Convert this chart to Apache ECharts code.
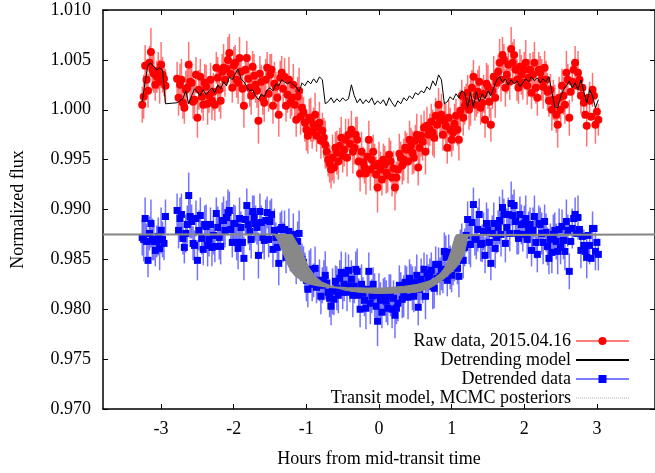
<!DOCTYPE html>
<html>
<head>
<meta charset="utf-8">
<script src="https://cdn.jsdelivr.net/npm/echarts@6/dist/echarts.min.js"></script>
<style>
  html, body { margin: 0; padding: 0; background: #fff; }
  #chart { width: 655px; height: 473px; }
</style>
</head>
<body>
<div id="chart"></div>
<script>
// hours from mid-transit (first block: even exposures, second block: odd exposures)
var hours = [
  -3.26, -3.22, -3.18, -3.14, -3.10, -3.06, -3.02, -2.98, -2.94,
  -2.78, -2.74, -2.70, -2.66, -2.62, -2.58, -2.54, -2.50, -2.46, -2.42,
  -2.38, -2.34, -2.30, -2.26, -2.22, -2.18, -2.14, -2.10, -2.06, -2.02,
  -1.98, -1.94, -1.90, -1.86, -1.82, -1.78, -1.74, -1.70, -1.66, -1.62,
  -1.58, -1.54, -1.50, -1.46, -1.42, -1.38, -1.34, -1.30, -1.26, -1.22,
  -1.18, -1.14, -1.10, -1.06, -1.02, -0.98, -0.94, -0.90, -0.86, -0.82,
  -0.78, -0.74, -0.70, -0.66, -0.62, -0.58, -0.54, -0.50, -0.46, -0.42,
  -0.38, -0.34, -0.30, -0.26, -0.22, -0.18, -0.14, -0.10, -0.06, -0.02,
  0.02, 0.06, 0.10, 0.14, 0.18, 0.22, 0.26, 0.30, 0.34, 0.38,
  0.42, 0.46, 0.50, 0.54, 0.58, 0.62, 0.66, 0.70, 0.74, 0.78,
  0.82, 0.86, 0.90, 0.94, 0.98, 1.02, 1.06, 1.10, 1.14, 1.18,
  1.22, 1.26, 1.30, 1.34, 1.38, 1.42, 1.46, 1.50, 1.54, 1.58,
  1.62, 1.66, 1.70, 1.74, 1.78, 1.82, 1.86, 1.90, 1.94, 1.98,
  2.02, 2.06, 2.10, 2.14, 2.18, 2.22, 2.26, 2.30, 2.34, 2.38,
  2.42, 2.46, 2.50, 2.54, 2.58, 2.62, 2.66, 2.70, 2.74, 2.78,
  2.82, 2.86, 2.90, 2.94, 2.98, 3.02,
  // odd exposures
  -3.24, -3.20, -3.16, -3.12, -3.08, -3.04, -3.00, -2.96,
  -2.76, -2.72, -2.68, -2.64, -2.60, -2.56, -2.52, -2.48, -2.44, -2.40,
  -2.36, -2.32, -2.28, -2.24, -2.20, -2.16, -2.12, -2.08, -2.04, -2.00,
  -1.96, -1.92, -1.88, -1.84, -1.80, -1.76, -1.72, -1.68, -1.64, -1.60,
  -1.56, -1.52, -1.48, -1.44, -1.40, -1.36, -1.32, -1.28, -1.24, -1.20,
  -1.16, -1.12, -1.08, -1.04, -1.00, -0.96, -0.92, -0.88, -0.84, -0.80,
  -0.76, -0.72, -0.68, -0.64, -0.60, -0.56, -0.52, -0.48, -0.44, -0.40,
  -0.36, -0.32, -0.28, -0.24, -0.20, -0.16, -0.12, -0.08, -0.04, 0.00,
  0.04, 0.08, 0.12, 0.16, 0.20, 0.24, 0.28, 0.32, 0.36, 0.40,
  0.44, 0.48, 0.52, 0.56, 0.60, 0.64, 0.68, 0.72, 0.76, 0.80,
  0.84, 0.88, 0.92, 0.96, 1.00, 1.04, 1.08, 1.12, 1.16, 1.20,
  1.24, 1.28, 1.32, 1.36, 1.40, 1.44, 1.48, 1.52, 1.56, 1.60,
  1.64, 1.68, 1.72, 1.76, 1.80, 1.84, 1.88, 1.92, 1.96, 2.00,
  2.04, 2.08, 2.12, 2.16, 2.20, 2.24, 2.28, 2.32, 2.36, 2.40,
  2.44, 2.48, 2.52, 2.56, 2.60, 2.64, 2.68, 2.72, 2.76, 2.80,
  2.84, 2.88, 2.92, 2.96, 3.00
];

// raw data, 2015.04.16
var rawFlux = [
  1.0005, 1.0044, 1.0019, 1.0058, 1.0036, 1.0033, 1.0028, 1.0035, 1.0024,
  1.0031, 1.0025, 1.0007, 1.0020, 1.0045, 1.0027, 1.0010, 0.9992, 1.0033, 1.0005,
  1.0023, 1.0014, 1.0009, 1.0005, 1.0032, 1.0009, 1.0042, 1.0041, 1.0057, 1.0022,
  1.0047, 1.0027, 1.0038, 1.0004, 1.0052, 1.0022, 1.0043, 1.0025, 0.9989, 1.0028,
  1.0007, 1.0042, 1.0035, 1.0004, 1.0023, 0.9995, 1.0037, 1.0033, 1.0015, 1.0007,
  1.0025, 0.9990, 1.0019, 1.0002, 0.9987, 0.9974, 0.9990, 0.9985, 0.9974, 0.9987,
  0.9979, 0.9965, 0.9950, 0.9940, 0.9942, 0.9957, 0.9964, 0.9954, 0.9970, 0.9975,
  0.9980, 0.9962, 0.9970, 0.9936, 0.9947, 0.9936, 0.9970, 0.9950, 0.9944, 0.9922,
  0.9940, 0.9950, 0.9937, 0.9955, 0.9932, 0.9922, 0.9940, 0.9952, 0.9950, 0.9960,
  0.9970, 0.9957, 0.9969, 0.9942, 0.9974, 0.9982, 0.9984, 0.9980, 0.9977, 0.9994,
  1.0005, 0.9995, 0.9989, 0.9962, 0.9980, 0.9977, 0.9994, 0.9970, 1.0014, 1.0004,
  1.0017, 1.0007, 1.0033, 1.0014, 1.0028, 1.0007, 0.9990, 1.0023, 0.9985, 1.0033,
  1.0027, 1.0047, 1.0055, 1.0022, 1.0045, 1.0061, 1.0055, 1.0030, 1.0043, 1.0027,
  1.0047, 1.0032, 1.0017, 1.0047, 1.0012, 1.0037, 1.0023, 1.0030, 1.0009, 1.0000,
  1.0007, 0.9985, 1.0000, 1.0014, 1.0037, 0.9992, 1.0028, 1.0047, 1.0037, 1.0014,
  1.0007, 0.9984, 1.0009, 1.0020, 0.9985, 0.9990,
  // odd exposures
  1.0013, 1.0030, 1.0047, 1.0040, 1.0025, 1.0039, 1.0045, 1.0031,
  1.0012, 1.0030, 1.0002, 1.0022, 1.0028, 1.0008, 1.0035, 1.0020, 1.0013, 1.0027,
  1.0006, 1.0030, 1.0018, 1.0042, 1.0020, 1.0038, 1.0030, 1.0050, 1.0036, 1.0044,
  1.0030, 1.0052, 1.0021, 1.0040, 1.0031, 1.0014, 1.0034, 1.0019, 1.0036, 1.0011,
  1.0030, 1.0016, 1.0040, 1.0026, 1.0012, 1.0032, 1.0021, 1.0004, 1.0030, 1.0012,
  1.0005, 1.0013, 0.9993, 0.9997, 0.9980, 0.9992, 0.9978, 0.9995, 0.9982, 0.9969,
  0.9972, 0.9958, 0.9946, 0.9952, 0.9962, 0.9948, 0.9972, 0.9960, 0.9952, 0.9966,
  0.9958, 0.9975, 0.9948, 0.9958, 0.9942, 0.9953, 0.9940, 0.9958, 0.9935, 0.9946,
  0.9930, 0.9945, 0.9934, 0.9948, 0.9941, 0.9932, 0.9956, 0.9944, 0.9962, 0.9948,
  0.9964, 0.9952, 0.9975, 0.9962, 0.9968, 0.9958, 0.9975, 0.9988, 0.9972, 0.9985,
  0.9990, 0.9975, 0.9984, 0.9992, 0.9970, 0.9986, 0.9980, 0.9999, 0.9992, 1.0009,
  1.0000, 1.0022, 1.0005, 1.0018, 1.0002, 1.0016, 1.0026, 1.0008, 1.0019, 1.0012,
  1.0038, 1.0030, 1.0050, 1.0035, 1.0028, 1.0047, 1.0040, 1.0022, 1.0035, 1.0040,
  1.0024, 1.0040, 1.0035, 1.0022, 1.0040, 1.0030, 1.0042, 1.0018, 1.0020, 1.0010,
  0.9995, 1.0012, 1.0024, 1.0005, 1.0030, 1.0018, 1.0040, 1.0024, 1.0030, 1.0022,
  0.9995, 1.0012, 0.9993, 1.0014, 0.9998
];

// detrended data
var detFlux = [
  0.9872, 0.9891, 0.9849, 0.9886, 0.9868, 0.9868, 0.9861, 0.9870, 0.9893,
  0.9899, 0.9891, 0.9871, 0.9876, 0.9914, 0.9888, 0.9864, 0.9849, 0.9894, 0.9860,
  0.9883, 0.9870, 0.9862, 0.9863, 0.9882, 0.9863, 0.9889, 0.9892, 0.9899, 0.9867,
  0.9886, 0.9861, 0.9882, 0.9851, 0.9904, 0.9878, 0.9898, 0.9886, 0.9854, 0.9887,
  0.9869, 0.9897, 0.9888, 0.9860, 0.9872, 0.9846, 0.9882, 0.9880, 0.9864, 0.9854,
  0.9875, 0.9842, 0.9876, 0.9850, 0.9838, 0.9820, 0.9839, 0.9829, 0.9822, 0.9829,
  0.9824, 0.9834, 0.9817, 0.9803, 0.9810, 0.9821, 0.9831, 0.9817, 0.9836, 0.9839,
  0.9830, 0.9823, 0.9838, 0.9800, 0.9816, 0.9801, 0.9838, 0.9813, 0.9814, 0.9788,
  0.9809, 0.9815, 0.9808, 0.9818, 0.9800, 0.9794, 0.9806, 0.9821, 0.9813, 0.9826,
  0.9831, 0.9821, 0.9827, 0.9802, 0.9830, 0.9840, 0.9836, 0.9835, 0.9823, 0.9845,
  0.9845, 0.9840, 0.9858, 0.9829, 0.9842, 0.9842, 0.9853, 0.9833, 0.9870, 0.9862,
  0.9890, 0.9865, 0.9905, 0.9871, 0.9895, 0.9866, 0.9854, 0.9879, 0.9846, 0.9886,
  0.9872, 0.9889, 0.9902, 0.9866, 0.9895, 0.9906, 0.9904, 0.9876, 0.9895, 0.9875,
  0.9891, 0.9879, 0.9859, 0.9893, 0.9855, 0.9885, 0.9867, 0.9877, 0.9851, 0.9857,
  0.9879, 0.9858, 0.9862, 0.9869, 0.9888, 0.9838, 0.9881, 0.9895, 0.9892, 0.9859,
  0.9864, 0.9852, 0.9864, 0.9881, 0.9858, 0.9855,
  // odd exposures
  0.9870, 0.9868, 0.9876, 0.9870, 0.9859, 0.9873, 0.9879, 0.9866,
  0.9879, 0.9895, 0.9862, 0.9885, 0.9893, 0.9866, 0.9891, 0.9879, 0.9871, 0.9885,
  0.9864, 0.9885, 0.9874, 0.9896, 0.9872, 0.9889, 0.9879, 0.9897, 0.9880, 0.9886,
  0.9867, 0.9891, 0.9867, 0.9890, 0.9885, 0.9870, 0.9892, 0.9882, 0.9898, 0.9872,
  0.9889, 0.9870, 0.9895, 0.9879, 0.9862, 0.9880, 0.9867, 0.9852, 0.9878, 0.9861,
  0.9856, 0.9868, 0.9846, 0.9847, 0.9829, 0.9840, 0.9825, 0.9841, 0.9827, 0.9813,
  0.9829, 0.9826, 0.9811, 0.9818, 0.9828, 0.9814, 0.9837, 0.9825, 0.9817, 0.9823,
  0.9814, 0.9840, 0.9814, 0.9825, 0.9809, 0.9820, 0.9806, 0.9825, 0.9803, 0.9814,
  0.9797, 0.9813, 0.9801, 0.9814, 0.9811, 0.9801, 0.9824, 0.9810, 0.9827, 0.9812,
  0.9827, 0.9813, 0.9834, 0.9820, 0.9825, 0.9813, 0.9829, 0.9839, 0.9821, 0.9831,
  0.9833, 0.9832, 0.9852, 0.9857, 0.9834, 0.9848, 0.9841, 0.9859, 0.9849, 0.9874,
  0.9865, 0.9887, 0.9870, 0.9880, 0.9865, 0.9878, 0.9886, 0.9867, 0.9876, 0.9861,
  0.9882, 0.9875, 0.9895, 0.9882, 0.9876, 0.9894, 0.9888, 0.9871, 0.9885, 0.9886,
  0.9870, 0.9885, 0.9879, 0.9867, 0.9886, 0.9876, 0.9888, 0.9863, 0.9870, 0.9875,
  0.9868, 0.9880, 0.9883, 0.9858, 0.9879, 0.9868, 0.9891, 0.9876, 0.9880, 0.9873,
  0.9858, 0.9874, 0.9851, 0.9881, 0.9867
];

// 1-sigma flux errors (same for raw and detrended)
var fluxErr = [
  0.0018, 0.0021, 0.0017, 0.0024, 0.0019, 0.0016, 0.0022, 0.0018, 0.0017,
  0.0017, 0.0021, 0.0016, 0.0019, 0.0023, 0.0017, 0.0015, 0.0020, 0.0018, 0.0016,
  0.0022, 0.0017, 0.0019, 0.0016, 0.0021, 0.0018, 0.0024, 0.0017, 0.0019, 0.0015,
  0.0018, 0.0021, 0.0016, 0.0022, 0.0017, 0.0019, 0.0016, 0.0018, 0.0023, 0.0017,
  0.0019, 0.0016, 0.0021, 0.0018, 0.0015, 0.0022, 0.0017, 0.0019, 0.0018, 0.0016,
  0.0021, 0.0017, 0.0023, 0.0016, 0.0019, 0.0018, 0.0022, 0.0017, 0.0016, 0.0021,
  0.0018, 0.0024, 0.0017, 0.0019, 0.0016, 0.0022, 0.0018, 0.0017, 0.0021, 0.0016,
  0.0019, 0.0017, 0.0023, 0.0018, 0.0016, 0.0021, 0.0019, 0.0017, 0.0022, 0.0025,
  0.0018, 0.0016, 0.0021, 0.0017, 0.0019, 0.0023, 0.0018, 0.0016, 0.0021, 0.0017,
  0.0019, 0.0022, 0.0016, 0.0018, 0.0021, 0.0017, 0.0019, 0.0016, 0.0023, 0.0018,
  0.0017, 0.0021, 0.0019, 0.0016, 0.0022, 0.0018, 0.0017, 0.0021, 0.0016, 0.0019,
  0.0018, 0.0023, 0.0017, 0.0021, 0.0016, 0.0019, 0.0018, 0.0022, 0.0017, 0.0021,
  0.0016, 0.0024, 0.0018, 0.0019, 0.0017, 0.0022, 0.0016, 0.0021, 0.0018, 0.0017,
  0.0023, 0.0019, 0.0016, 0.0021, 0.0018, 0.0017, 0.0022, 0.0019, 0.0016, 0.0021,
  0.0018, 0.0023, 0.0017, 0.0019, 0.0022, 0.0018,
  // odd exposures
  0.0020, 0.0017, 0.0022, 0.0018, 0.0016, 0.0021, 0.0019, 0.0017,
  0.0019, 0.0016, 0.0022, 0.0018, 0.0017, 0.0021, 0.0016, 0.0019, 0.0023, 0.0017,
  0.0018, 0.0021, 0.0016, 0.0019, 0.0022, 0.0017, 0.0018, 0.0020, 0.0016, 0.0019,
  0.0021, 0.0017, 0.0019, 0.0016, 0.0022, 0.0018, 0.0017, 0.0023, 0.0016, 0.0019,
  0.0018, 0.0021, 0.0017, 0.0016, 0.0020, 0.0019, 0.0022, 0.0017, 0.0018, 0.0016,
  0.0021, 0.0018, 0.0016, 0.0022, 0.0019, 0.0017, 0.0020, 0.0016, 0.0023, 0.0018,
  0.0017, 0.0020, 0.0018, 0.0016, 0.0021, 0.0019, 0.0017, 0.0022, 0.0016, 0.0018,
  0.0020, 0.0017, 0.0019, 0.0023, 0.0016, 0.0018, 0.0021, 0.0017, 0.0019, 0.0016,
  0.0022, 0.0018, 0.0017, 0.0020, 0.0016, 0.0019, 0.0021, 0.0017, 0.0018, 0.0022,
  0.0016, 0.0019, 0.0017, 0.0021, 0.0018, 0.0016, 0.0020, 0.0019, 0.0017, 0.0022,
  0.0018, 0.0016, 0.0021, 0.0017, 0.0019, 0.0023, 0.0016, 0.0018, 0.0020, 0.0017,
  0.0019, 0.0016, 0.0022, 0.0018, 0.0017, 0.0020, 0.0016, 0.0021, 0.0018, 0.0017,
  0.0020, 0.0018, 0.0016, 0.0022, 0.0017, 0.0019, 0.0021, 0.0016, 0.0018, 0.0020,
  0.0017, 0.0022, 0.0016, 0.0019, 0.0018, 0.0021, 0.0017, 0.0016, 0.0020, 0.0018,
  0.0019, 0.0017, 0.0023, 0.0016, 0.0018, 0.0021, 0.0017, 0.0019, 0.0016, 0.0020,
  0.0018, 0.0021, 0.0017, 0.0019, 0.0016
];

// detrending model, at the even exposure times
var modelFlux = [
  1.0008, 1.0028, 1.0045, 1.0047, 1.0043, 1.0040, 1.0042, 1.0040, 1.0006,
  1.0007, 1.0009, 1.0011, 1.0019, 1.0006, 1.0014, 1.0021, 1.0018, 1.0014, 1.0020,
  1.0015, 1.0019, 1.0022, 1.0017, 1.0025, 1.0021, 1.0028, 1.0024, 1.0033, 1.0030,
  1.0036, 1.0041, 1.0031, 1.0028, 1.0023, 1.0019, 1.0020, 1.0014, 1.0010, 1.0016,
  1.0013, 1.0020, 1.0022, 1.0019, 1.0026, 1.0024, 1.0030, 1.0028, 1.0026, 1.0028,
  1.0025, 1.0023, 1.0018, 1.0027, 1.0024, 1.0029, 1.0026, 1.0031, 1.0027, 1.0033,
  1.0030, 1.0006, 1.0008, 1.0012, 1.0007, 1.0011, 1.0008, 1.0012, 1.0009, 1.0011,
  1.0025, 1.0014, 1.0007, 1.0011, 1.0006, 1.0010, 1.0007, 1.0012, 1.0005, 1.0009,
  1.0006, 1.0010, 1.0004, 1.0012, 1.0007, 1.0003, 1.0009, 1.0006, 1.0012, 1.0009,
  1.0014, 1.0011, 1.0017, 1.0015, 1.0019, 1.0017, 1.0023, 1.0020, 1.0029, 1.0024,
  1.0035, 1.0030, 1.0006, 1.0008, 1.0013, 1.0010, 1.0016, 1.0012, 1.0019, 1.0017,
  1.0002, 1.0017, 1.0003, 1.0018, 1.0008, 1.0016, 1.0011, 1.0019, 1.0014, 1.0022,
  1.0030, 1.0033, 1.0028, 1.0031, 1.0025, 1.0030, 1.0026, 1.0029, 1.0023, 1.0027,
  1.0031, 1.0028, 1.0033, 1.0029, 1.0032, 1.0027, 1.0031, 1.0028, 1.0033, 1.0018,
  1.0003, 1.0002, 1.0013, 1.0020, 1.0024, 1.0029, 1.0022, 1.0027, 1.0020, 1.0030,
  1.0018, 1.0007, 1.0020, 1.0014, 1.0002, 1.0010
];
var modelHours = hours.slice(0, modelFlux.length);

// transit model posteriors: outer edges of the band
var transEarlyT = [-3.8, -1.43, -1.39, -1.336, -1.29, -1.244, -1.20, -1.152, -1.06, -0.969, -0.83, -0.695, -0.45, -0.2,
  0.1, 0.35, 0.539, 0.68, 0.768, 0.85, 0.905, 0.95, 0.995, 1.025, 1.05, 1.07, 1.087, 3.8];
var transEarlyF = [0.9875, 0.9875, 0.9870, 0.98606, 0.9852, 0.98439, 0.9838, 0.9834, 0.9829, 0.98257, 0.98238, 0.98224, 0.98212, 0.98207,
  0.98210, 0.98225, 0.98245, 0.98275, 0.98307, 0.98355, 0.98407, 0.98480, 0.98573, 0.98650, 0.98715, 0.98742, 0.9875, 0.9875];
var transLateT = [-3.8, -1.198, -1.15, -1.10, -1.061, -1.015, -0.969, -0.88, -0.787, -0.63, -0.466, -0.25, -0.01,
  0.25, 0.539, 0.68, 0.768, 0.87, 0.95, 1.02, 1.087, 1.14, 1.179, 1.205, 1.224, 1.25, 3.8];
var transLateF = [0.9875, 0.9875, 0.98690, 0.98627, 0.98573, 0.98500, 0.98423, 0.98330, 0.98274, 0.98225, 0.98190, 0.98168, 0.98157,
  0.98162, 0.98174, 0.98205, 0.98240, 0.98290, 0.98340, 0.98385, 0.98439, 0.98510, 0.98573, 0.98660, 0.98723, 0.9875, 0.9875];

var xTicks = [-3, -2, -1, 0, 1, 2, 3];

var FONT = 'Liberation Serif';

function zip(a, b, c) {
    var out = [];
    for (var i = 0; i < a.length; i++) {
        out.push(c ? [a[i], b[i], c[i]] : [a[i], b[i]]);
    }
    return out;
}

function errBar(color) {
    return function (params, api) {
        var x = api.value(0), y = api.value(1), e = api.value(2);
        var p1 = api.coord([x, y + e]);
        var p2 = api.coord([x, y - e]);
        return {
            type: 'line',
            shape: { x1: p1[0], y1: p1[1], x2: p2[0], y2: p2[1] },
            style: { stroke: color, lineWidth: 1.5 }
        };
    };
}

var chart = echarts.init(document.getElementById('chart'));

var option = {
    animation: false,
    backgroundColor: '#fff',
    grid: { left: 103, top: 10, width: 555, height: 401 },
    legend: {
        orient: 'vertical',
        align: 'right',
        right: 20,
        top: 327,
        itemWidth: 53,
        itemHeight: 10,
        itemGap: 1,
        selectedMode: false,
        textStyle: { fontFamily: FONT, fontSize: 18, color: '#000' },
        data: [
            { name: 'Raw data, 2015.04.16', lineStyle: { color: '#ff5050', width: 1.5, opacity: 1 } },
            { name: 'Detrending model', itemStyle: { opacity: 0 } },
            { name: 'Detrended data', lineStyle: { color: '#5050ff', width: 1.5, opacity: 1 } },
            { name: 'Transit model, MCMC posteriors', itemStyle: { opacity: 0 }, lineStyle: { color: '#aaaaaa', width: 1, type: 'dotted' } }
        ]
    },
    xAxis: [{
        type: 'value',
        position: 'bottom',
        min: -3.8,
        max: 3.8,
        name: 'Hours from mid-transit time',
        nameLocation: 'middle',
        nameGap: 41,
        nameTextStyle: { fontFamily: FONT, fontSize: 18, color: '#000' },
        axisLine: { show: true, onZero: false, lineStyle: { color: '#000', width: 1.5 } },
        axisTick: { show: true, inside: true, length: 5, customValues: xTicks, lineStyle: { color: '#000' } },
        axisLabel: { customValues: xTicks, fontFamily: FONT, fontSize: 18, color: '#000', margin: 11 },
        splitLine: { show: false }
    }, {
        type: 'value',
        position: 'top',
        min: -3.8,
        max: 3.8,
        axisLine: { show: true, onZero: false, lineStyle: { color: '#000', width: 1.5 } },
        axisTick: { show: true, inside: true, length: 5, customValues: xTicks, lineStyle: { color: '#000' } },
        axisLabel: { show: false },
        splitLine: { show: false }
    }],
    yAxis: [{
        type: 'value',
        position: 'left',
        min: 0.970,
        max: 1.010,
        interval: 0.005,
        name: 'Normalized flux',
        nameLocation: 'middle',
        nameRotate: 90,
        nameGap: 76,
        nameTextStyle: { fontFamily: FONT, fontSize: 18, color: '#000' },
        axisLine: { show: true, onZero: false, lineStyle: { color: '#000', width: 1.5 } },
        axisTick: { show: true, inside: true, length: 5, lineStyle: { color: '#000' } },
        axisLabel: {
            fontFamily: FONT, fontSize: 18, color: '#000', margin: 12,
            formatter: function (v) { return v.toFixed(3); }
        },
        splitLine: { show: false }
    }, {
        type: 'value',
        position: 'right',
        min: 0.970,
        max: 1.010,
        interval: 0.005,
        axisLine: { show: true, onZero: false, lineStyle: { color: '#000', width: 1.5 } },
        axisTick: { show: true, inside: true, length: 5, lineStyle: { color: '#000' } },
        axisLabel: { show: false },
        splitLine: { show: false }
    }],
    series: [
        {
            type: 'custom',
            silent: true,
            z: 2,
            renderItem: errBar('rgba(255,0,0,0.55)'),
            encode: { x: 0, y: 1 },
            data: zip(hours, rawFlux, fluxErr)
        },
        {
            name: 'Raw data, 2015.04.16',
            type: 'line',
            z: 2,
            symbol: 'circle',
            symbolSize: 8,
            showAllSymbol: true,
            itemStyle: { color: '#ff0000' },
            lineStyle: { width: 0, opacity: 0 },
            data: zip(hours, rawFlux)
        },
        {
            name: 'Detrending model',
            type: 'line',
            z: 3,
            symbol: 'none',
            lineStyle: { color: '#000', width: 1 },
            itemStyle: { color: '#000' },
            data: zip(modelHours, modelFlux)
        },
        {
            type: 'custom',
            silent: true,
            z: 2,
            renderItem: errBar('rgba(0,0,255,0.55)'),
            encode: { x: 0, y: 1 },
            data: zip(hours, detFlux, fluxErr)
        },
        {
            name: 'Detrended data',
            type: 'line',
            z: 2,
            symbol: 'rect',
            symbolSize: 7,
            showAllSymbol: true,
            itemStyle: { color: '#0000ff' },
            lineStyle: { width: 0, opacity: 0 },
            data: zip(hours, detFlux)
        },
        {
            type: 'custom',
            silent: true,
            z: 4,
            renderItem: function (params, api) {
                var pts = [];
                for (var i = 0; i < transEarlyT.length; i++) {
                    pts.push(api.coord([transEarlyT[i], transEarlyF[i]]));
                }
                for (var j = transLateT.length - 1; j >= 0; j--) {
                    pts.push(api.coord([transLateT[j], transLateF[j]]));
                }
                return {
                    type: 'polygon',
                    shape: { points: pts },
                    style: { fill: '#888888', stroke: '#888888', lineWidth: 1 }
                };
            },
            encode: { x: 0, y: 1 },
            data: [[0, 0.982]]
        },
        {
            name: 'Transit model, MCMC posteriors',
            type: 'line',
            z: 4,
            symbol: 'none',
            lineStyle: { color: '#888888', width: 2 },
            itemStyle: { color: '#888888' },
            data: zip(transEarlyT, transEarlyF)
        }
    ]
};

chart.setOption(option);
</script>
</body>
</html>
